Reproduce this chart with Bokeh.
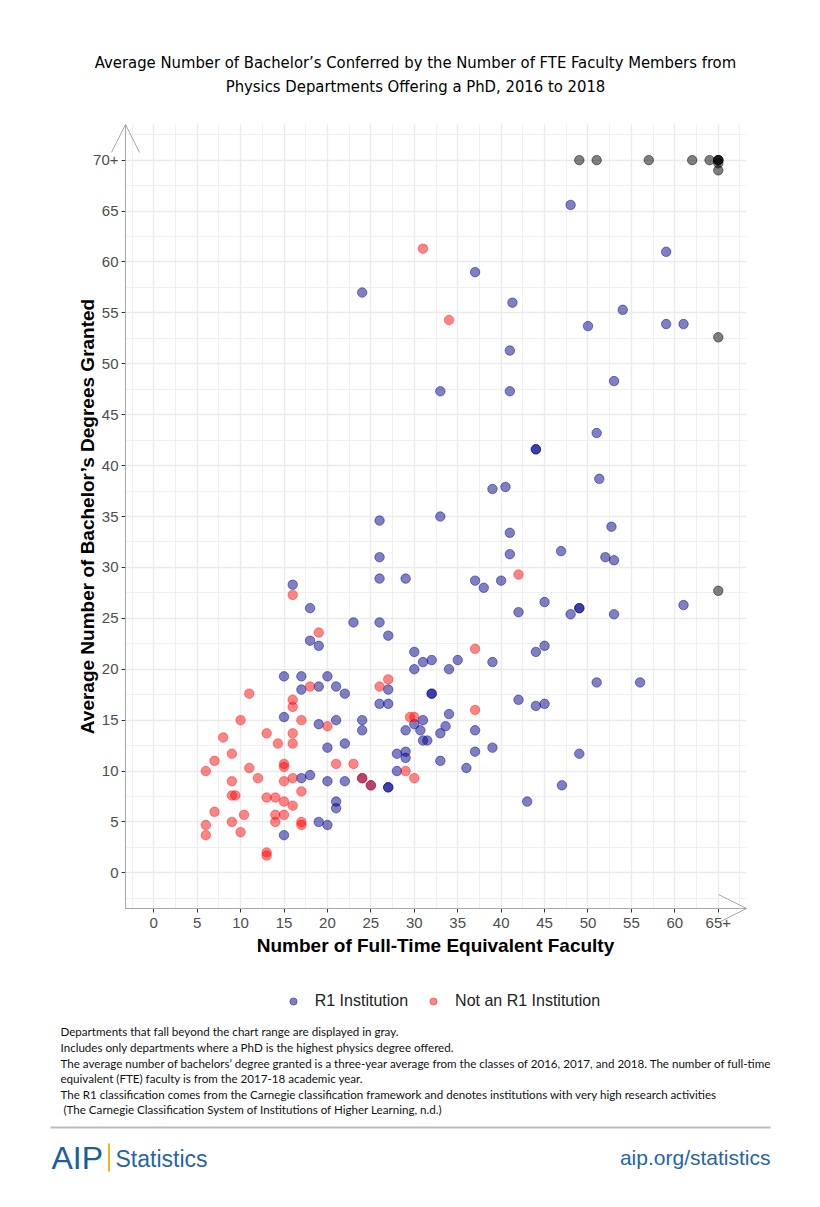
import numpy as np
from bokeh.plotting import figure
from bokeh.models import (Range1d, FixedTicker, Label, Legend, LegendItem, LinearAxis, Grid,
                          Arrow, OpenHead, BoxAnnotation)
from bokeh.embed import file_html
from bokeh.resources import INLINE

# ---------------- data ----------------
title_lines = [
    "Average Number of Bachelor\u2019s Conferred by the Number of FTE Faculty Members from",
    "Physics Departments Offering a PhD, 2016 to 2018",
]
x_title = "Number of Full-Time Equivalent Faculty"
y_title = "Average Number of Bachelor\u2019s Degrees Granted"
legend_labels = ["R1 Institution", "Not an R1 Institution"]

x_ticks = [0, 5, 10, 15, 20, 25, 30, 35, 40, 45, 50, 55, 60, 65]
x_tick_labels = ["0", "5", "10", "15", "20", "25", "30", "35", "40", "45", "50", "55", "60", "65+"]
y_ticks = [0, 5, 10, 15, 20, 25, 30, 35, 40, 45, 50, 55, 60, 65, 70]
y_tick_labels = ["0", "5", "10", "15", "20", "25", "30", "35", "40", "45", "50", "55", "60", "65", "70+"]

# R1 institutions
r1_fte = [24, 48, 59, 37, 41.3, 54, 50, 59, 61, 41, 53, 33, 41,
          51, 44, 44, 51.3, 39, 40.5, 26, 33, 41, 52.7, 26, 41, 46.9, 52, 53, 26, 29, 37, 38, 40,
          45, 49, 49, 48, 42, 53, 61, 26, 27,
          16, 18, 23, 18, 19,
          15, 17, 20, 17, 19, 21, 22, 15, 21, 24, 19, 24, 22, 20, 17, 18, 20, 22, 24, 25, 21, 21,
          19, 20, 15,
          30, 44, 45, 31, 32, 35, 39, 30, 34, 51, 56, 27, 32, 32, 26, 27, 42, 44, 45, 34, 31, 30,
          29, 30.7, 33.6, 33, 37, 31, 31.5, 28, 29, 29, 37, 39, 49, 33, 36, 28, 27, 27, 47, 43]
r1_bach = [57.0, 65.6, 61.0, 59.0, 56.0, 55.3, 53.7, 53.9, 53.9, 51.3, 48.3, 47.3, 47.3,
           43.2, 41.6, 41.6, 38.7, 37.7, 37.9, 34.6, 35.0, 33.4, 34.0, 31.0, 31.3, 31.6, 31.0, 30.7,
           28.9, 28.9, 28.7, 28.0, 28.7,
           26.6, 26.0, 26.0, 25.4, 25.6, 25.4, 26.3, 24.6, 23.3,
           28.3, 26.0, 24.6, 22.8, 22.3,
           19.3, 19.3, 19.3, 18.0, 18.3, 18.3, 17.6, 15.3, 15.0, 15.0, 14.6, 14.0, 12.7, 12.3, 9.3,
           9.6, 9.0, 9.0, 9.3, 8.6, 7.0, 6.35,
           5.0, 4.7, 3.7,
           21.7, 21.7, 22.3, 20.7, 20.9, 20.9, 20.7, 20.0, 20.0, 18.7, 18.7, 18.0, 17.6, 17.6, 16.6,
           16.6, 17.0, 16.4, 16.6, 15.6, 15.0, 14.6,
           14.0, 14.0, 14.4, 13.7, 14.0, 13.0, 13.0, 11.7, 11.9, 11.3, 11.9, 12.3, 11.7, 11.0, 10.3,
           10.0, 8.4, 8.4, 8.6, 7.0]

# Not R1 institutions
non_r1_fte = [31, 34, 42, 37, 16, 19, 18, 11, 16, 16, 10, 17, 20, 8, 13, 16, 14.3, 16, 9, 7,
              21, 23, 6, 11, 15, 15, 12, 9, 15, 16, 24, 25, 9, 9.4, 13, 14, 15, 16, 17, 7,
              10.4, 14, 15, 6, 9, 14, 17, 17, 6, 10, 13, 13, 27, 26, 37, 29.5, 30, 29, 30]
non_r1_bach = [61.3, 54.3, 29.3, 22.0, 27.3, 23.6, 18.3, 17.6, 17.0, 16.3, 15.0, 15.0, 14.4,
               13.3, 13.7, 13.7, 12.7, 12.7, 11.7, 11.0,
               10.7, 10.7, 10.0, 10.3, 10.7, 10.4, 9.3, 9.0, 9.0, 9.3, 9.3, 8.6, 7.6, 7.6, 7.4,
               7.4, 7.0, 6.6, 8.0, 6.0,
               5.7, 5.7, 5.7, 4.7, 5.0, 5.0, 5.0, 4.7, 3.7, 4.0, 2.0, 1.7, 19.0, 18.3, 16.0, 15.3,
               15.3, 10.0, 9.3]

# Beyond chart range (gray)
beyond_fte = [49, 51, 57, 62, 64, 65, 65, 65, 65, 65, 65, 65]
beyond_bach = [70, 70, 70, 70, 70, 70, 70, 70, 69.7, 69.0, 52.6, 27.7]

footnotes = [
    "Departments that fall beyond the chart range are displayed in gray.",
    "Includes only departments where a PhD is the highest physics degree offered.",
    "The average number of bachelors\u2019 degree granted is a three-year average from the classes of 2016, 2017, and 2018. The number of full-time",
    "equivalent (FTE) faculty is from the 2017-18 academic year.",
    "The R1 classification comes from the Carnegie classification framework and denotes institutions with very high research activities",
    "\u00a0(The Carnegie Classification System of Institutions of Higher Learning, n.d.)",
]

# ---------------- layout constants (pixels) ----------------
W, H = 812, 1199
X0, X1, Y0, Y1 = -3.25, 68.25, -3.5, 73.5          # plotting panel limits (data)
PL, PR, PT, PB = 125, 746, 124, 908               # plotting panel edges (pixels)
kx = (PR - PL) / (X1 - X0)
ky = (PB - PT) / (Y1 - Y0)

p = figure(width=W, height=H,
           x_range=Range1d(X0 - PL / kx, X1 + (W - PR) / kx),
           y_range=Range1d(Y0 - (H - PB) / ky, Y1 + PT / ky),
           x_axis_type=None, y_axis_type=None,
           output_backend="svg", toolbar_location=None,
           min_border=0, min_border_left=0, min_border_right=0,
           min_border_top=0, min_border_bottom=0)
p.outline_line_color = None
p.background_fill_color = "white"
p.border_fill_color = "white"

x_minor = list(np.arange(-2.5, 68, 5.0))
y_minor = list(np.arange(-2.5, 73, 5.0))

# grids limited to the plotting panel
p.add_layout(Grid(dimension=0, ticker=FixedTicker(ticks=x_ticks, minor_ticks=x_minor),
                  bounds=(X0, X1), cross_bounds=(Y0, Y1),
                  grid_line_color="#EBEBEB", grid_line_width=1.4,
                  minor_grid_line_color="#F0F0F0", minor_grid_line_width=1.1), "center")
p.add_layout(Grid(dimension=1, ticker=FixedTicker(ticks=y_ticks, minor_ticks=y_minor),
                  bounds=(Y0, Y1), cross_bounds=(X0, X1),
                  grid_line_color="#EBEBEB", grid_line_width=1.4,
                  minor_grid_line_color="#F0F0F0", minor_grid_line_width=1.1), "center")

# axes
xaxis = LinearAxis(fixed_location=Y0, bounds=(X0, X1), ticker=FixedTicker(ticks=x_ticks),
                   major_label_overrides={t: l for t, l in zip(x_ticks, x_tick_labels)})
yaxis = LinearAxis(fixed_location=X0, bounds=(Y0, Y1), ticker=FixedTicker(ticks=y_ticks),
                   major_label_overrides={t: l for t, l in zip(y_ticks, y_tick_labels)})
for ax in (xaxis, yaxis):
    ax.axis_line_color = "#A8A8A8"
    ax.axis_line_width = 1
    ax.major_tick_line_color = "#333333"
    ax.major_tick_in = 0
    ax.major_tick_out = 4
    ax.minor_tick_in = 0
    ax.minor_tick_out = 0
    ax.major_label_text_font = "Liberation Sans"
    ax.major_label_text_font_size = "15px"
    ax.major_label_text_color = "#4D4D4D"
xaxis.major_label_standoff = 5
yaxis.major_label_standoff = 3
p.add_layout(xaxis, "below")
p.add_layout(yaxis, "left")

# axis arrows
p.add_layout(Arrow(x_start=X0, y_start=Y0, x_end=X0, y_end=Y1,
                   line_color="#A8A8A8", line_width=1,
                   end=OpenHead(size=28, line_color="#A8A8A8", line_width=1)))
p.add_layout(Arrow(x_start=X0, y_start=Y0, x_end=X1, y_end=Y0,
                   line_color="#A8A8A8", line_width=1,
                   end=OpenHead(size=28, line_color="#A8A8A8", line_width=1)))

# points
r_r1 = p.scatter(r1_fte, r1_bach, size=9.5, fill_color="#00008B", fill_alpha=0.5,
                 line_color="#00008B", line_alpha=0.45, line_width=1)
r_nr1 = p.scatter(non_r1_fte, non_r1_bach, size=9.5, fill_color="#FF0000", fill_alpha=0.48,
                  line_color="#FF0000", line_alpha=0.4, line_width=1)
p.scatter(beyond_fte, beyond_bach, size=9.5, fill_color="black", fill_alpha=0.5,
          line_color="black", line_alpha=0.45, line_width=1)

legend = Legend(items=[LegendItem(label=legend_labels[0], renderers=[r_r1]),
                       LegendItem(label=legend_labels[1], renderers=[r_nr1])],
                orientation="horizontal", location=(283.7, H - 1010),
                glyph_width=18, glyph_height=18, label_standoff=13, spacing=16,
                padding=0, margin=0, border_line_alpha=0, background_fill_alpha=0,
                label_text_font="Liberation Sans", label_text_font_size="16px",
                label_text_color="#222222", label_height=18)
p.add_layout(legend, "center")


def add_text(text, px, py, size, font="Liberation Sans", color="#000000",
             align="left", style="normal", angle=0.0):
    p.add_layout(Label(x=px, y=H - py, x_units="screen", y_units="screen",
                       text=text, text_font=font, text_font_size=size,
                       text_color=color, text_align=align, text_baseline="middle",
                       text_font_style=style, angle=angle))


# title
add_text(title_lines[0], 415, 62, "16.5px", font="DejaVu Sans Condensed", color="#000000", align="center")
add_text(title_lines[1], 415, 86, "16.5px", font="DejaVu Sans Condensed", color="#000000", align="center")

# axis titles
add_text(x_title, 435, 945, "19px", style="bold", align="center")
add_text(y_title, 87, 516, "19px", style="bold", align="center", angle=np.pi / 2)

# footnotes
for line, yy in zip(footnotes, [1031, 1047, 1063, 1078, 1094, 1109]):
    add_text(line, 60, yy, "11.6px", font="Lato", color="#111111")

# rule
p.add_layout(BoxAnnotation(left=50, right=770, bottom=H - 1128, top=H - 1126,
                           left_units="screen", right_units="screen",
                           bottom_units="screen", top_units="screen",
                           fill_color="#BBBBBB", fill_alpha=1, line_alpha=0))
# logo
add_text("AIP", 51, 1157, "32px", color="#1B5E9C")
p.add_layout(BoxAnnotation(left=107.5, right=109.5, bottom=H - 1171, top=H - 1143,
                           left_units="screen", right_units="screen",
                           bottom_units="screen", top_units="screen",
                           fill_color="#F2B418", fill_alpha=1, line_alpha=0))
add_text("Statistics", 115, 1158, "23px", color="#2466A8")
add_text("aip.org/statistics", 770, 1157, "21px", color="#2466A8", align="right")

open("out.html", "w").write(file_html(p, INLINE))
